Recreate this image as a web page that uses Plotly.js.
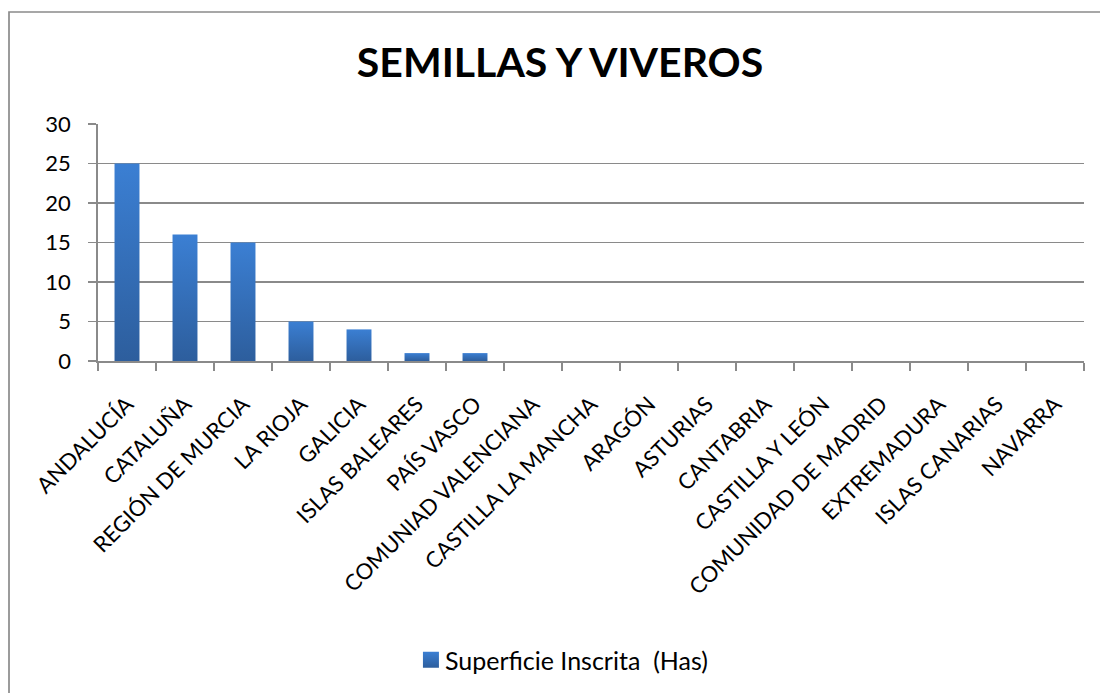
<!DOCTYPE html>
<html>
<head>
<meta charset="utf-8">
<script src="https://cdn.plot.ly/plotly-3.0.1.min.js"></script>
<style>
html,body{margin:0;padding:0;background:#fff;overflow:hidden;}
#chart{width:1109px;height:693px;}
</style>
</head>
<body>
<div id="chart"></div>
<script>
const categories = ["ANDALUCÍA","CATALUÑA","REGIÓN DE MURCIA","LA RIOJA","GALICIA","ISLAS BALEARES","PAÍS VASCO","COMUNIAD VALENCIANA","CASTILLA LA MANCHA","ARAGÓN","ASTURIAS","CANTABRIA","CASTILLA Y LEÓN","COMUNIDAD DE MADRID","EXTREMADURA","ISLAS CANARIAS","NAVARRA"];
const superficie = [25,16,15,5,4,1,1,0,0,0,0,0,0,0,0,0,0];
const seriesName = "Superficie Inscrita  (Has)";
const chartTitle = "SEMILLAS Y VIVEROS";
const yTicks = [0,5,10,15,20,25,30];

const font = "Lato, 'Liberation Sans', sans-serif";
const gray = "#8a8a8a";
const trace = {
  type: "bar",
  x: categories,
  y: superficie,
  name: seriesName,
  marker: {color: "#3470bc", line: {width: 0}},
  showlegend: true,
  hoverinfo: "x+y"
};
const bx0 = (9 - 98) / 986, by1 = 1 + (124 - 12) / 237;
const bxEnd = (1100 - 98) / 986, byEnd = -(693 - 361) / 237;
const layout = {
  width: 1109, height: 693,
  paper_bgcolor: "#fff", plot_bgcolor: "#fff",
  margin: {l: 98, r: 25, t: 124, b: 332, pad: 0},
  title: {text: "<b>" + chartTitle + "</b>", font: {family: font, size: 41, color: "#000"},
          x: 0.505, xref: "container", xanchor: "center", y: 1 - 63/693, yref: "container", yanchor: "middle"},
  bargap: 0.57,
  xaxis: {type: "category", tickangle: -45, tickfont: {family: font, size: 22, color: "#000"},
          ticks: "outside", tickson: "boundaries", ticklen: 8, tickcolor: gray, tickwidth: 1.7,
          ticklabelstandoff: 20,
          showline: true, linecolor: gray, linewidth: 1.7, showgrid: false, automargin: false},
  yaxis: {range: [0, 30], tickvals: yTicks, tickfont: {family: font, size: 22, color: "#000"},
          ticks: "outside", ticklen: 8, tickcolor: gray, tickwidth: 1.7, ticklabelstandoff: 13,
          showline: true, linecolor: gray, linewidth: 1.7,
          showgrid: true, gridcolor: gray, gridwidth: 1.7, zeroline: false, automargin: false},
  legend: {orientation: "h", x: 0.504, xref: "container", xanchor: "center",
           y: 1 - 660/693, yref: "container", yanchor: "middle",
           font: {family: font, size: 25, color: "#000"}, itemwidth: 30},
  shapes: [{type: "path", xref: "paper", yref: "paper", layer: "above",
            path: "M" + bx0 + "," + byEnd + " L" + bx0 + "," + by1 + " L" + bxEnd + "," + by1,
            line: {color: gray, width: 1.7}}]
};
Plotly.newPlot("chart", [trace], layout, {displayModeBar: false, staticPlot: true}).then(function(gd){
  const svg = gd.querySelector("svg.main-svg");
  const ns = "http://www.w3.org/2000/svg";
  let defs = svg.querySelector("defs");
  const lg = document.createElementNS(ns, "linearGradient");
  lg.setAttribute("id", "barGrad");
  lg.setAttribute("x1", "0"); lg.setAttribute("y1", "0");
  lg.setAttribute("x2", "0"); lg.setAttribute("y2", "1");
  [["0", "#3b7fd3"], ["1", "#2d5e9d"]].forEach(function(s){
    const st = document.createElementNS(ns, "stop");
    st.setAttribute("offset", s[0]); st.setAttribute("stop-color", s[1]);
    lg.appendChild(st);
  });
  defs.appendChild(lg);
  gd.querySelectorAll(".barlayer .point path").forEach(function(p){ p.style.fill = "url(#barGrad)"; });
  gd.querySelectorAll(".legend .legendpoints path").forEach(function(p){
    p.setAttribute("d", "M14,8H-2V-8H14Z");
    p.style.fill = "url(#barGrad)";
  });
});
</script>
</body>
</html>
